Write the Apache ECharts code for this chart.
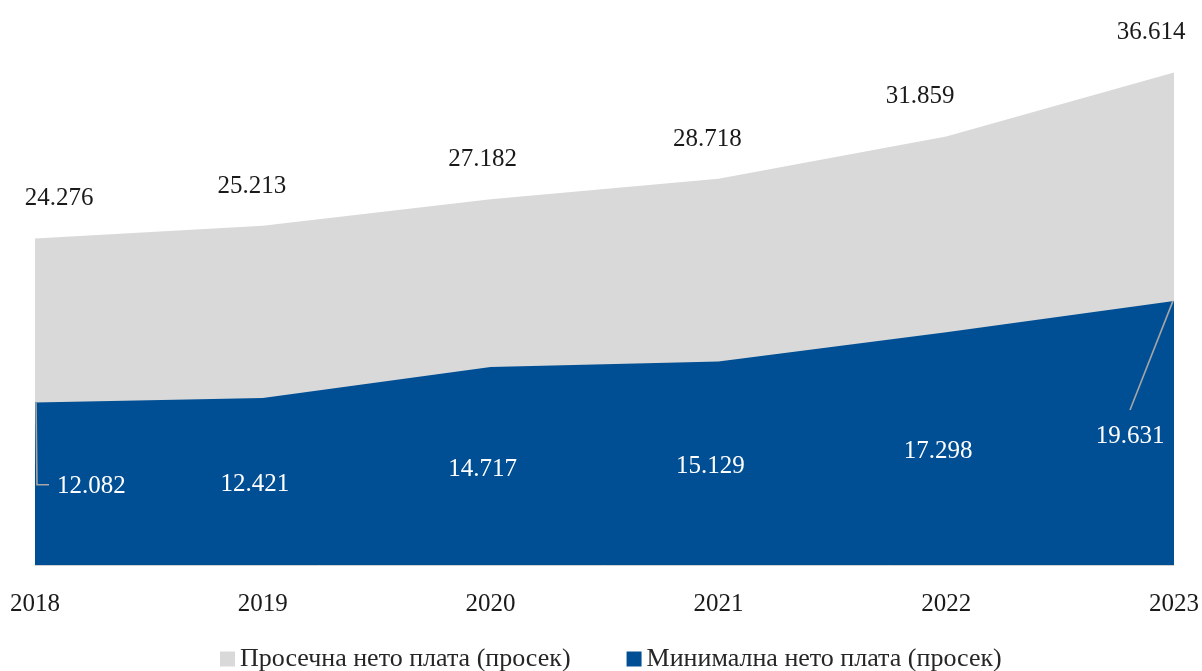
<!DOCTYPE html>
<html>
<head>
<meta charset="utf-8">
<script src="https://cdn.jsdelivr.net/npm/echarts@6/dist/echarts.min.js"></script>
<style>
  html, body { margin: 0; padding: 0; background: #fff; }
  #chart { width: 1202px; height: 671px; }
</style>
</head>
<body>
<div id="chart"></div>
<script>
  const years = ['2018', '2019', '2020', '2021', '2022', '2023'];
  const avgWage = [24276, 25213, 27182, 28718, 31859, 36614];
  const minWage = [12082, 12421, 14717, 15129, 17298, 19631];
  const seriesNames = ['Просечна нето плата (просек)', 'Минимална нето плата (просек)'];

  const font = '"Liberation Serif", "DejaVu Serif", serif';
  const fmt = (v) => {
    const s = String(v);
    return s.slice(0, s.length - 3) + '.' + s.slice(-3);
  };
  const last = years.length - 1;

  const chart = echarts.init(document.getElementById('chart'));

  // pixel helpers, only valid after the first setOption
  const px = (i) => chart.convertToPixel({ xAxisIndex: 0 }, years[i]);
  const py = (v) => chart.convertToPixel({ yAxisIndex: 0 }, v);
  const labelY = (i) => py(minWage[i] / 2) + 3;

  const option = {
    animation: false,
    textStyle: { fontFamily: font },
    grid: { left: 35, right: 28, top: 0, bottom: 106, containLabel: false },
    legend: {
      top: 641,
      left: 215,
      itemWidth: 15,
      itemHeight: 15,
      itemGap: 56,
      icon: 'rect',
      textStyle: { fontFamily: font, fontSize: 26, color: '#262626' },
      data: seriesNames,
    },
    xAxis: {
      type: 'category',
      data: years,
      boundaryGap: false,
      axisTick: { show: false },
      axisLine: { lineStyle: { color: '#d0d0d0', width: 1 } },
      axisLabel: { fontFamily: font, fontSize: 25, color: '#1a1a1a', margin: 27 },
      splitLine: { show: false },
    },
    yAxis: {
      type: 'value',
      min: 0,
      max: 42000,
      show: false,
      splitLine: { show: false },
    },
    series: [
      {
        name: seriesNames[0],
        type: 'line',
        data: avgWage,
        symbol: 'circle',
        symbolSize: 0.1,
        itemStyle: { color: '#d9d9d9' },
        lineStyle: { width: 0 },
        areaStyle: { color: '#d9d9d9', opacity: 1 },
        label: {
          show: true,
          position: 'top',
          distance: 27,
          fontFamily: font,
          fontSize: 25,
          color: '#1a1a1a',
          formatter: (p) => fmt(p.value),
        },
        labelLayout: (p) => {
          const shift = [24, -11, -8, -11, -26, -23][p.dataIndex];
          return { dx: shift };
        },
      },
      {
        name: seriesNames[1],
        type: 'line',
        data: minWage,
        symbol: 'circle',
        symbolSize: 0.1,
        itemStyle: { color: '#004f94' },
        lineStyle: { width: 0 },
        areaStyle: { color: '#004f94', opacity: 1 },
        label: {
          show: true,
          position: 'top',
          fontFamily: font,
          fontSize: 25,
          color: '#ffffff',
          formatter: (p) => fmt(p.value),
        },
        labelLayout: (p) => {
          const i = p.dataIndex;
          if (i === 0) {
            return { x: px(i) + 22, y: labelY(i), align: 'left', verticalAlign: 'middle' };
          }
          if (i === last) {
            return { x: px(i) - 44, y: labelY(i), align: 'center', verticalAlign: 'middle' };
          }
          return { x: px(i) - 8, y: labelY(i), align: 'center', verticalAlign: 'middle' };
        },
      },
    ],
  };

  chart.setOption(option);

  // leader lines for the first and last minimum-wage labels
  const leaderStyle = { stroke: '#a6a6a6', lineWidth: 1.6, fill: null };
  chart.setOption({
    graphic: [
      {
        type: 'polyline',
        z: 10,
        shape: {
          points: [
            [px(0) + 1, py(minWage[0])],
            [px(0) + 2, labelY(0) - 2],
            [px(0) + 14, labelY(0) - 2],
          ],
        },
        style: leaderStyle,
      },
      {
        type: 'polyline',
        z: 10,
        shape: {
          points: [
            [px(last) - 1, py(minWage[last])],
            [px(last) - 44, labelY(last) - 26],
          ],
        },
        style: leaderStyle,
      },
    ],
  });
</script>
</body>
</html>
